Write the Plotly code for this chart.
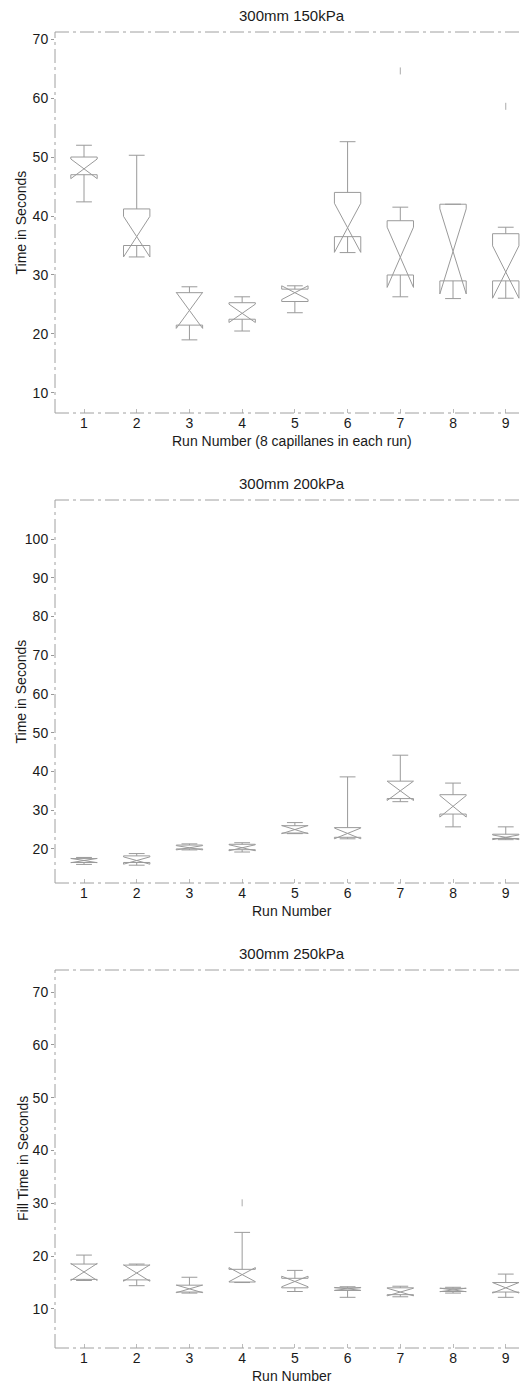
import plotly.graph_objects as go
import math

runs = [1, 2, 3, 4, 5, 6, 7, 8, 9]

# Panel 1: 300mm 150kPa
p1_low = [42.4, 34.0, 19.0, 20.5, 23.6, 33.8, 26.3, 26.0, 27.5]
p1_q1 = [47.0, 35.0, 21.5, 22.5, 25.5, 36.5, 30.0, 29.0, 29.0]
p1_med = [48.0, 36.5, 24.0, 23.5, 27.0, 38.0, 33.0, 34.0, 30.5]
p1_q3 = [50.0, 41.2, 27.0, 25.3, 27.6, 44.0, 39.2, 42.0, 37.0]
p1_up = [52.0, 50.3, 28.0, 26.3, 28.1, 52.6, 41.5, 42.0, 38.1]
p1_out_x = [7, 9]
p1_out_y = [64.6, 58.6]

# Panel 2: 300mm 200kPa
p2_low = [16.0, 15.8, 19.8, 19.2, 24.0, 22.9, 32.2, 25.7, 22.5]
p2_q1 = [16.5, 16.5, 20.0, 19.8, 24.1, 23.0, 33.0, 29.0, 22.7]
p2_med = [17.0, 17.0, 20.3, 20.3, 25.0, 24.0, 35.0, 31.0, 23.0]
p2_q3 = [17.5, 18.2, 21.0, 21.2, 26.0, 25.5, 37.5, 34.0, 23.8]
p2_up = [17.8, 18.8, 21.3, 21.6, 26.8, 38.6, 44.2, 37.0, 25.7]

# Panel 3: 300mm 250kPa
p3_low = [15.5, 14.4, 13.0, 15.0, 13.3, 12.2, 12.3, 13.0, 12.2]
p3_q1 = [15.6, 15.5, 13.2, 15.1, 14.0, 13.5, 12.7, 13.3, 13.2]
p3_med = [17.0, 16.8, 13.8, 16.5, 15.2, 13.8, 13.2, 13.6, 14.0]
p3_q3 = [18.5, 18.3, 14.5, 17.5, 15.8, 14.0, 14.0, 13.9, 15.0]
p3_up = [20.2, 18.5, 16.0, 24.5, 17.3, 14.2, 14.3, 14.1, 16.6]
p3_out_x = [4]
p3_out_y = [30.1]

n_per_run = 8

titles = ["300mm 150kPa", "300mm 200kPa", "300mm 250kPa"]
xtitles = ["Run Number (8 capillanes in each run)", "Run Number", "Run Number"]
ytitles = ["Time in Seconds", "Time in Seconds", "Fill Time in Seconds"]

# page body adds an 8px offset; work in screen pixels and subtract it
OFF = 8
W, H = 530 - OFF, 1396 - OFF
panels_px = [(32, 413), (500, 883), (970, 1348)]
yranges = [[6.6, 71.2], [11.2, 110.1], [2.6, 74.2]]
yticks = [[10, 20, 30, 40, 50, 60, 70],
          [20, 30, 40, 50, 60, 70, 80, 90, 100],
          [10, 20, 30, 40, 50, 60, 70]]
x_left_px = 55
xrange = [0.45, 9.46]

FONT = "Liberation Sans, Arial, sans-serif"
TXT = "#1a1a1a"
LINE = "#9a9a9a"
FS = 14


def px_x(px):
    return (px - OFF) / W


def px_y(px):
    return 1 - (px - OFF) / H


fig = go.Figure()

data = [
    (p1_low, p1_q1, p1_med, p1_q3, p1_up, p1_out_x, p1_out_y),
    (p2_low, p2_q1, p2_med, p2_q3, p2_up, [], []),
    (p3_low, p3_q1, p3_med, p3_q3, p3_up, p3_out_x, p3_out_y),
]

for i, (lo, q1, med, q3, up, ox, oy) in enumerate(data):
    ax = "" if i == 0 else str(i + 1)
    notch = [1.57 * (b - a) / math.sqrt(n_per_run) for a, b in zip(q1, q3)]
    fig.add_trace(go.Box(
        x=runs, q1=q1, median=med, q3=q3, lowerfence=lo, upperfence=up,
        notched=True, notchspan=notch, notchwidth=0.5,
        width=0.5, whiskerwidth=0.6,
        line=dict(color=LINE, width=1), fillcolor="rgba(255,255,255,0)",
        boxpoints=False, showlegend=False, hoverinfo="skip",
        xaxis="x" + ax, yaxis="y" + ax,
    ))
    if ox:
        fig.add_trace(go.Scatter(
            x=ox, y=oy, mode="markers",
            marker=dict(symbol="line-ns-open", size=5, color="#aaa", line=dict(width=1, color="#aaa")),
            showlegend=False, hoverinfo="skip", xaxis="x" + ax, yaxis="y" + ax,
        ))

layout = dict(
    width=W, height=H, margin=dict(l=0, r=0, t=0, b=0, autoexpand=False),
    paper_bgcolor="white", plot_bgcolor="white",
    font=dict(family=FONT, size=FS, color=TXT),
    showlegend=False,
)

shapes = []
annotations = []
xl, xr = px_x(x_left_px), 1.0
for i, (top, bot) in enumerate(panels_px):
    ax = "" if i == 0 else str(i + 1)
    d = [px_y(bot), px_y(top)]
    layout["xaxis" + ax] = dict(
        domain=[xl, xr], range=xrange, anchor="y" + ax,
        tickmode="array", tickvals=runs, ticktext=[str(r) for r in runs],
        ticks="inside", ticklen=4, tickcolor="#bbb",
        showline=False, showgrid=False, zeroline=False, automargin=False,
        tickfont=dict(size=FS, color=TXT),
    )
    layout["yaxis" + ax] = dict(
        domain=d, range=yranges[i], anchor="x" + ax,
        tickmode="array", tickvals=yticks[i],
        ticks="outside", ticklen=3, tickcolor="#999",
        showline=False, showgrid=False, zeroline=False, automargin=False,
        tickfont=dict(size=FS, color=TXT),
    )
    for (x0, y0, x1, y1) in [(xl, d[0], xl, d[1]), (xl, d[1], xr, d[1]), (xl, d[0], xr, d[0])]:
        shapes.append(dict(type="line", xref="paper", yref="paper", x0=x0, y0=y0, x1=x1, y1=y1,
                           line=dict(color="#a0a0a0", width=1, dash="14px,4px,3px,4px")))
    annotations.append(dict(
        text=titles[i], xref="paper", yref="paper",
        x=px_x(292), y=px_y(top - 17), xanchor="center", yanchor="middle",
        showarrow=False, font=dict(size=15, color=TXT),
    ))
    annotations.append(dict(
        text=xtitles[i], xref="paper", yref="paper",
        x=px_x(292), y=px_y(bot + 28), xanchor="center", yanchor="middle",
        showarrow=False, font=dict(size=FS, color=TXT),
    ))
    annotations.append(dict(
        text=ytitles[i], xref="paper", yref="paper", textangle=-90,
        x=px_x(20 if i < 2 else 23), y=(d[0] + d[1]) / 2, xanchor="center", yanchor="middle",
        showarrow=False, font=dict(size=FS, color=TXT),
    ))

layout["shapes"] = shapes
layout["annotations"] = annotations
fig.update_layout(**layout)
fig.write_html("out.html")
